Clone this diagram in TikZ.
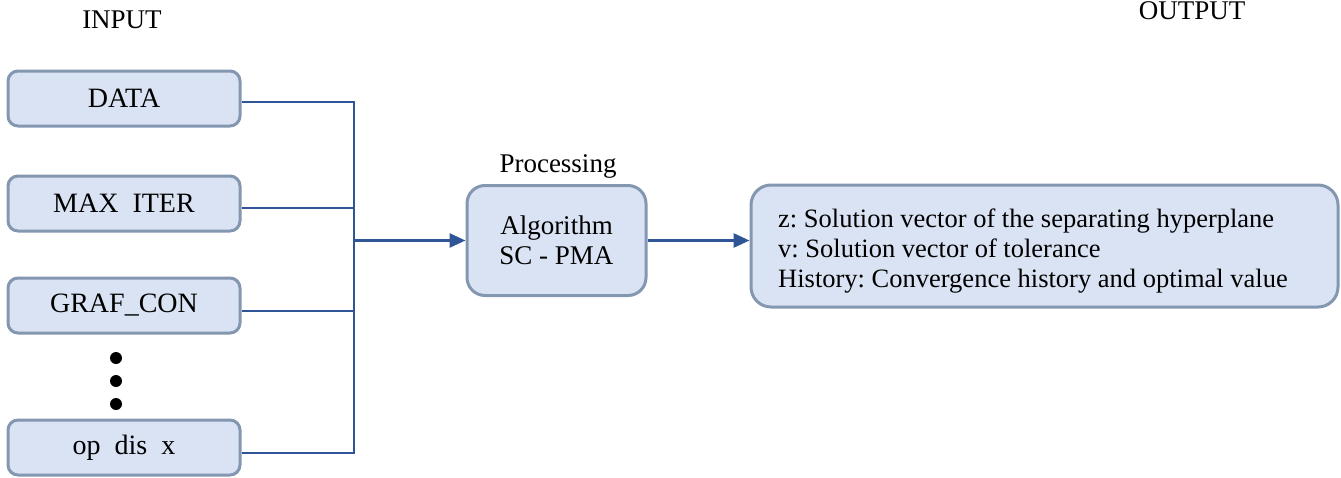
\documentclass[tikz,border=0pt]{standalone}
\usepackage{fontspec}
\setmainfont{Liberation Serif}
\frenchspacing
\usetikzlibrary{arrows.meta,calc}
\definecolor{boxfill}{RGB}{218,227,243}
\definecolor{boxline}{RGB}{132,151,176}
\definecolor{wire}{RGB}{47,85,151}
\begin{document}
\begin{tikzpicture}[x=1pt,y=-1pt,
  every node/.style={font=\fontsize{27}{30}\selectfont},
  inbox/.style={draw=boxline,fill=boxfill,line width=3pt,rounded corners=10pt,
    minimum width=232pt,minimum height=55pt,inner sep=0pt,
    font=\fontsize{28}{30}\selectfont},
  procbox/.style={draw=boxline,fill=boxfill,line width=3pt,rounded corners=18pt,
    minimum width=179pt,minimum height=110pt,align=center,inner sep=0pt},
  outbox/.style={draw=boxline,fill=boxfill,line width=3pt,rounded corners=20pt,
    minimum width=587pt,minimum height=122pt,inner sep=0pt},
  outtext/.style={inner sep=0pt,align=left,font=\fontsize{26.5}{30}\selectfont},
  wireline/.style={draw=wire,line width=2.8pt},
  flow/.style={wireline,-{Triangle[length=16pt,width=14pt]}},
  dot/.style={circle,fill=black,minimum size=12pt,inner sep=0pt},
  title/.style={inner sep=0pt}
]
\useasboundingbox (0,0) rectangle (1341,477);

% headings
\node[title] (inlabel) at (122,20) {INPUT};
\node[title] (outlabel) at (1192,11) {OUTPUT};

% input parameters
\node[inbox] (data) at (124,98.5) {DATA};
\node[inbox] (maxit) at (124,203.5) {MAX\hspace{0.5em}ITER};
\node[inbox] (graf) at (124,305.5) {GRAF\_CON};
\node[inbox] (opdis) at (124,447.5) {op\hspace{0.5em}dis\hspace{0.5em}x};

% ellipsis dots between the last two inputs
\node[dot] (d1) at (116,358) {};
\node[dot] (d2) at (116,381) {};
\node[dot] (d3) at (116,404) {};

% processing block
\node[title] (proclabel) at (558,166) {Processing};
\node[procbox] (proc) at (556.5,240.5) {Algorithm\\SC - PMA};

% output block
\node[outbox] (out) at (1044.5,246) {};
\node[outtext,anchor=west] (outtxt) at (778,251) {z: Solution vector of the separating hyperplane\\
v: Solution vector of tolerance\\
History: Convergence history and optimal value};

% collecting bus
\coordinate (bus) at (354,240.5);
\draw[wireline] ([yshift=-3.5pt]data.east) -| (bus);
\draw[wireline] ([yshift=-4.5pt]maxit.east) -| (bus);
\draw[wireline] ([yshift=-5.5pt]graf.east) -| (bus);
\draw[wireline] ([yshift=-5.5pt]opdis.east) -| (bus);
\draw[flow] (bus) -- (proc.west);
\draw[flow] (proc.east) -- (proc.east -| out.west);
\end{tikzpicture}
\end{document}
